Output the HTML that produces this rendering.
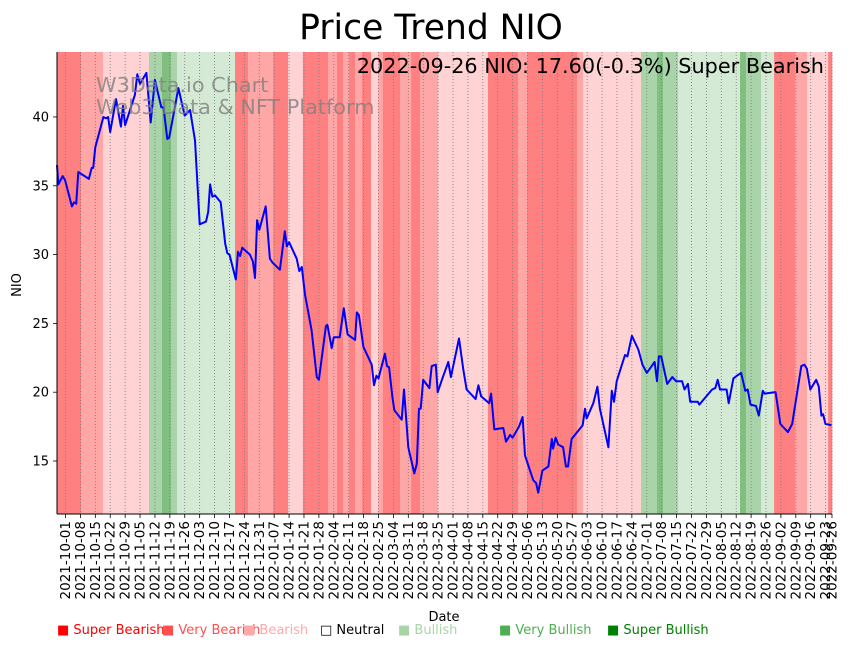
<!DOCTYPE html>
<html><head><meta charset="utf-8"><style>
body{margin:0;background:#fff;font-family:"Liberation Sans","DejaVu Sans",sans-serif}
svg text{font-family:"DejaVu Sans","Liberation Sans",sans-serif}
</style></head><body>
<svg id="chart" width="851" height="646" viewBox="0 0 851 646" xmlns="http://www.w3.org/2000/svg">
<text x="431" y="39" font-size="34.5" text-anchor="middle">Price Trend NIO</text>
<g id="bands"></g>
<g id="grid"></g>
<g id="line"></g>
<text x="96" y="92" font-size="20.8" fill="#808080" opacity="0.8">W3Data.io Chart</text>
<text x="96" y="114" font-size="20.8" fill="#808080" opacity="0.8">Web3 Data &amp; NFT Platform</text>
<text x="824" y="73" font-size="20.8" text-anchor="end">2022-09-26 NIO: 17.60(-0.3%) Super Bearish</text>
<g id="axes"></g>
<text transform="translate(21,285) rotate(-90)" font-size="13" text-anchor="middle">NIO</text>
<text x="444" y="621" font-size="13" text-anchor="middle">Date</text>
<g font-size="13">
<text x="57" y="634" fill="#ff0000">■ Super Bearish</text>
<text x="162" y="634" fill="#ff5050">■ Very Bearish</text>
<text x="243" y="634" fill="#ffa8a8">■ Bearish</text>
<text x="320" y="634" fill="#000">□ Neutral</text>
<text x="398" y="634" fill="#a8d5a8">■ Bullish</text>
<text x="499" y="634" fill="#4caf50">■ Very Bullish</text>
<text x="607" y="634" fill="#008000">■ Super Bullish</text>
</g>
</svg>
<script>
// day offsets from 2021-09-27
const priceDays=[0,0.6,2.7,3.8,7,8,9,10,15,16.3,17,18,21.8,23,24,25,27.7,30,31,32,36.6,37.7,39,42,44,46,49,50,51.8,52.7,57,60,62.5,64.8,67,70,71,71.9,73,74.2,76.9,79,80,81,84,85,86,87,90.6,92,93,94,95,98,100,101.3,104.7,107,108,109,112.6,113.8,115,116.5,119.6,122,123,126.3,127,129,130,132.8,134.7,136.5,140,140.8,141.8,143.9,147.8,148.9,150,151,154,155,156,157.5,158.4,161.9,163,165,167.8,169,170,170.8,172,174.9,176,177.9,178.8,181,183.8,185,188.8,190.8,192.4,196.6,197.9,199.2,203,203.9,205.4,209.6,210.9,212.8,214,217,218.7,219.8,223.7,225,226,228,230.8,232.4,233,234.2,235.4,237.7,239,240,241.7,246.9,248,248.8,251.9,253.8,255,259,260.6,261.6,262.9,266.8,267.9,270,273,275,277,280.7,281.8,282.7,283.8,286.6,289,290.8,293.6,294.7,296.3,297.4,300.9,301.7,303.3,307.7,309.2,310.3,311.4,314.5,315.5,317.7,319.4,321.3,323.3,324.4,325.7,328.3,329.6,331.5,332.3,337,337.5,339.7,343.3,345.3,349.6,351.1,352.2,353.8,356.6,357.8,359,359.8,360.9,363.7];
const priceValues=[36.5,35.1,35.7,35.4,33.5,33.8,33.7,36.0,35.5,36.3,36.3,37.8,40.0,39.9,40.0,38.9,41.3,39.3,40.8,39.4,41.6,43.1,42.4,43.2,39.6,42.7,40.7,40.7,38.4,38.5,42.1,40.1,40.5,38.3,32.2,32.4,33.1,35.1,34.2,34.3,33.8,30.8,30.1,30.0,28.2,30.2,29.9,30.5,30.0,29.5,28.3,32.5,31.8,33.5,29.7,29.4,28.9,31.7,30.6,30.9,29.7,28.8,29.1,27.1,24.5,21.1,20.9,24.8,24.9,23.2,24.0,24.0,26.1,24.2,23.8,25.8,25.6,23.3,22.0,20.5,21.2,21.0,22.8,21.9,21.8,19.7,18.7,18.0,20.2,16.0,14.1,14.8,18.8,18.8,20.9,20.3,21.9,22.0,20.0,21.0,22.2,21.1,23.9,21.7,20.2,19.5,20.5,19.7,19.2,19.9,17.3,17.4,16.4,16.9,16.7,17.5,18.2,15.4,13.6,13.4,12.7,14.3,14.6,16.6,15.9,16.7,16.2,16.0,14.6,14.6,16.6,17.6,18.8,18.1,19.2,20.4,18.8,16.0,20.1,19.3,20.8,22.7,22.6,24.1,23.1,22.0,21.4,22.2,20.8,22.6,22.6,20.6,21.1,20.8,20.8,20.2,20.6,19.3,19.3,19.1,19.4,20.2,20.3,20.9,20.2,20.2,19.2,21.0,21.2,21.4,20.1,20.2,19.1,19.0,18.3,20.1,19.9,20.0,20.0,17.7,17.1,17.7,21.9,22.0,21.7,20.2,20.9,20.4,18.3,18.4,17.7,17.6];
const bandStarts=[0,11.3,21.6,43.2,49.3,53.5,56.4,83.6,89.7,101.5,108.5,115.5,127.3,131.5,134.3,137.2,140,143.3,147.5,150.8,153.1,161.1,166.3,170.5,179,202.4,216.5,220.8,244.2,247.1,274.3,281.8,284.6,291.7,320.8,323.6,330.7,336.8,346.6,352.3,362.2];
const bandEnds=[11.3,21.6,43.2,49.3,53.5,56.4,83.6,89.7,101.5,108.5,115.5,127.3,131.5,134.3,137.2,140,143.3,147.5,150.8,153.1,161.1,166.3,170.5,179,202.4,216.5,220.8,244.2,247.1,274.3,281.8,284.6,291.7,320.8,323.6,330.7,336.8,346.6,352.3,362.2,364];
const bandLevels=[3,2,1,-2,-3,-2,-1,3,2,3,1,3,2,3,2,3,2,3,1,2,3,2,3,2,1,3,2,3,2,1,-2,-3,-2,-1,-3,-2,-1,3,2,1,3];
const yTicks=[15,20,25,30,35,40];

const NS="http://www.w3.org/2000/svg";
const L=57,R=832,T=52,B=514,dMin=0,dMax=364,yMin=11.15,yMax=44.72;
const xS=d=>L+(d-dMin)/(dMax-dMin)*(R-L);
const yS=v=>B-(v-yMin)/(yMax-yMin)*(B-T);
const colors={"3":"#ff8080","2":"#ffa6a6","1":"#ffd3d3","0":"#ffffff","-1":"#d5ead5","-2":"#a9d4a9","-3":"#80bf80"};
function mk(tag,attrs,parent){const e=document.createElementNS(NS,tag);for(const k in attrs)e.setAttribute(k,attrs[k]);parent.appendChild(e);return e;}
const bands=document.getElementById('bands');
bandStarts.forEach((s,i)=>{
  const r=mk('rect',{x:xS(s),y:T,width:xS(bandEnds[i])-xS(s)+0.3,height:B-T,fill:colors[String(bandLevels[i])]},bands);
  
  
});
const grid=document.getElementById('grid'),axes=document.getElementById('axes');
const base=new Date(Date.UTC(2021,8,27));
const fmt=d=>d.toISOString().slice(0,10);
const tickDays=[];for(let d=4;d<=361;d+=7)tickDays.push(d);tickDays.push(364);
tickDays.forEach(d=>{
  const x=xS(d);
  const g=mk('line',{x1:x,x2:x,y1:T,y2:B,stroke:'#777','stroke-width':0.8,'stroke-dasharray':'1,2'},grid);
  
  
  const t=mk('line',{x1:x,x2:x,y1:B,y2:B+4,stroke:'#000','stroke-width':0.8},axes);
  
  
  const dt=new Date(base.getTime()+d*86400000);
  const lb=mk('text',{transform:`translate(${x+4.5},${B+7}) rotate(-90)`,'font-size':13.5,'text-anchor':'end'},axes);
  lb.textContent=fmt(dt);
  
  
});
yTicks.forEach(v=>{
  const y=yS(v);
  const t=mk('line',{x1:L-4,x2:L,y1:y,y2:y,stroke:'#000','stroke-width':0.8},axes);
  
  
  const lb=mk('text',{x:L-8,y:y+4.5,'font-size':13,'text-anchor':'end'},axes);
  lb.textContent=v;
  
  
});
const sp1=mk('line',{x1:L,x2:L,y1:T,y2:B,stroke:'#000','stroke-width':1},axes);


const sp2=mk('line',{x1:L,x2:R,y1:B,y2:B,stroke:'#000','stroke-width':1},axes);


const pts=priceDays.map((d,i)=>xS(d).toFixed(1)+','+yS(priceValues[i]).toFixed(1)).join(' ');
const pl=mk('polyline',{points:pts,fill:'none',stroke:'#0000ff','stroke-width':2,'stroke-linejoin':'round'},document.getElementById('line'));


</script>
</body></html>
